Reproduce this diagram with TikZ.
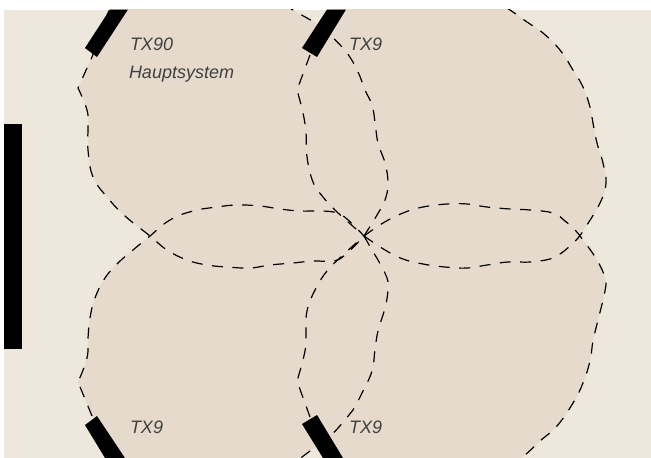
\documentclass[tikz,border=0pt]{standalone}
\usepackage{fontspec}
\setmainfont{Liberation Sans}
\definecolor{pagebg}{HTML}{EEE8DC}
\definecolor{lobefill}{HTML}{E5DACC}
\definecolor{labeltext}{HTML}{404040}
\newcommand{\lobeA}{(118,-8) (105,20) (92,57)}
\newcommand{\lobeAb}{(78,88) (87,110) (88,127) (88,150) (93,177) (107,197) (125,216) (150,236) (167,250) (187,260) (207,265) (227,267) (250,268) (270,265) (293,263) (313,261) (333,261) (345,255) (364,236)}
\newcommand{\lobeAc}{(377,215) (385,200) (388,183) (385,163) (378,143) (375,122) (372,105) (365,90) (358,72) (347,53) (330,35) (317,24) (293,10) (270,-5)}
\newcommand{\lobeB}{(92,416)}
\newcommand{\lobeBb}{(78,382) (87,358) (88,338) (90,318) (95,298) (105,278) (118,263) (133,250) (150,236) (170,220) (193,211) (217,207) (237,205) (260,206) (280,209) (300,211) (323,211) (337,213) (347,219) (364,236)}
\newcommand{\lobeBc}{(372,250) (378,260) (387,278) (388,290) (385,308) (378,331) (375,350) (372,371) (363,391) (353,410) (345,420) (330,436) (310,451) (290,466)}
\newcommand{\lobeC}{(297,90) (303,113) (306,133) (307,157) (313,182) (323,197) (335,210) (347,221) (364,236)}
\newcommand{\lobeCb}{(385,250) (403,259) (423,264) (445,267) (467,268) (487,265) (508,262) (530,262) (550,259) (560,254) (570,246) (578,238) (585,228) (600,203) (606,183) (603,163) (597,143) (593,123) (590,107) (583,87) (573,70) (560,50) (543,33) (527,22) (510,10) (490,-3)}
\newcommand{\lobeD}{(297,381) (305,351) (306,331) (307,311) (315,290) (327,271) (343,255) (364,236)}
\newcommand{\lobeDb}{(383,223) (403,213) (423,207) (447,204) (467,204) (487,207) (510,209) (530,210) (553,213) (565,221) (575,230) (583,240) (597,260) (605,278) (605,291) (598,320) (593,341) (590,361) (583,383) (573,403) (557,426) (540,441) (525,455) (505,470)}
\tikzset{
  lobeline/.style={draw=black,line width=1.2pt,dash pattern=on 11pt off 9.5pt},
  barshape/.style={fill=black,draw=none},
  label/.style={font=\fontsize{18}{21}\selectfont\itshape,text=labeltext,anchor=base west,inner sep=0pt,outer sep=0pt},
  curve/.style={smooth,tension=.7}
}
\begin{document}
\begin{tikzpicture}[x=1pt,y=-1pt]
\useasboundingbox (0,0) rectangle (651,458);
\fill[pagebg] (4,9.5) rectangle (651,458);
\begin{scope}
\clip (4,9.5) rectangle (651,458);
% fills
\fill[lobefill] plot[curve] coordinates {\lobeA} -- plot[curve] coordinates {\lobeAb} -- plot[curve] coordinates {\lobeAc} -- cycle;
\fill[lobefill] (120,470) -- plot[curve] coordinates {\lobeB} -- plot[curve] coordinates {\lobeBb} -- plot[curve] coordinates {\lobeBc} -- cycle;
\fill[lobefill] (337,-8) -- (310,55) -- plot[curve] coordinates {\lobeC} -- plot[curve] coordinates {\lobeCb} -- cycle;
\fill[lobefill] (335,470) -- (310,417) -- plot[curve] coordinates {\lobeD} -- plot[curve] coordinates {\lobeDb} -- cycle;
% outlines
\draw[lobeline] plot[curve] coordinates {\lobeA} -- plot[curve] coordinates {\lobeAb};
\draw[lobeline] plot[curve] coordinates {(364,236) \lobeAc};
\draw[lobeline] (92,416) -- plot[curve] coordinates {\lobeBb};
\draw[lobeline] plot[curve] coordinates {(364,236) \lobeBc};
\draw[lobeline] (310,55) -- plot[curve] coordinates {\lobeC};
\draw[lobeline] plot[curve] coordinates {(364,236) \lobeCb};
\draw[lobeline] (310,417) -- plot[curve] coordinates {\lobeD};
\draw[lobeline] plot[curve] coordinates {(364,236) \lobeDb};
% bars
\fill[barshape] (85,48) -- (97,57) -- (128,9.5) -- (110,9.5) -- cycle;
\fill[barshape] (302,48) -- (317,57) -- (346,9.5) -- (327,9.5) -- cycle;
\fill[barshape] (85,425) -- (97,416) -- (125,458) -- (105,458) -- cycle;
\fill[barshape] (302,424) -- (317,415) -- (343,458) -- (323,458) -- cycle;
\end{scope}
\fill[barshape] (4,124) rectangle (22,349);
\node[label] (main) at (130,50) {TX90};
\node[label] (sub) at (129,78) {Hauptsystem};
\node[label] (tr) at (349,50) {TX9};
\node[label] (bl) at (130,433) {TX9};
\node[label] (br) at (349,433) {TX9};
\end{tikzpicture}
\end{document}
